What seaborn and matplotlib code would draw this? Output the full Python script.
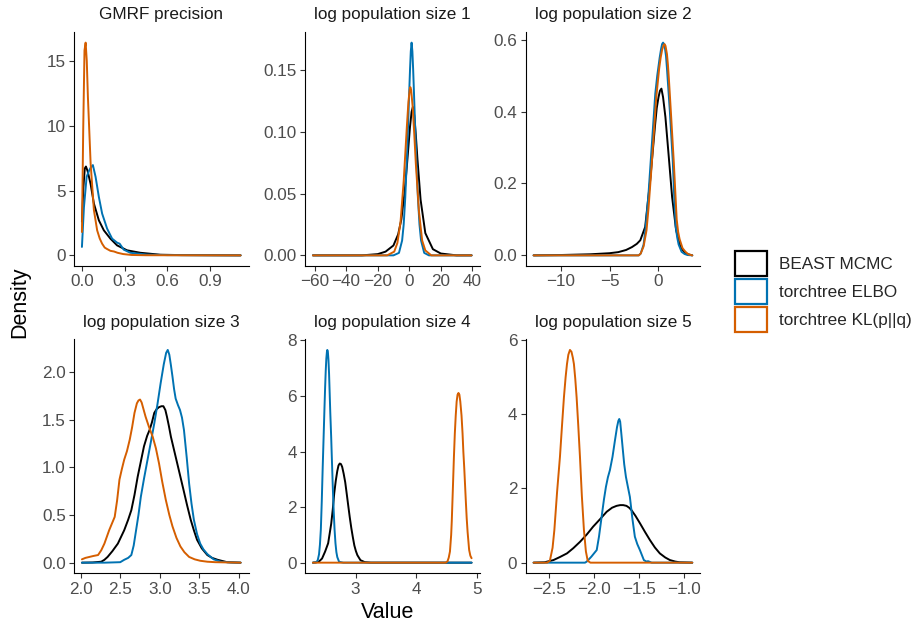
import numpy as np
import pandas as pd
import matplotlib
matplotlib.use("Agg")
import matplotlib.pyplot as plt
from matplotlib.patches import Patch
from matplotlib.ticker import FixedLocator, FixedFormatter
import seaborn as sns

# ---------------- data ----------------
methods = ["BEAST MCMC", "torchtree ELBO", "torchtree KL(p||q)"]
colors = ["#000000", "#0072B2", "#D55E00"]
panel_titles = ["GMRF precision", "log population size 1", "log population size 2",
                "log population size 3", "log population size 4", "log population size 5"]

# GMRF precision
gmrf_beast_x = [0.0, 0.01, 0.02, 0.028, 0.04, 0.061, 0.084, 0.119, 0.154, 0.2, 0.247, 0.317, 0.41, 0.55, 0.7, 1.115]
gmrf_beast_y = [2.6, 5.2, 6.7, 6.85, 6.5, 5.5, 4.0, 2.7, 1.93, 1.29, 0.77, 0.39, 0.2, 0.05, 0.02, 0.0]
gmrf_elbo_x = [0.0, 0.014, 0.033, 0.049, 0.061, 0.077, 0.096, 0.119, 0.142, 0.177, 0.212, 0.247, 0.265, 0.294, 0.34, 0.457, 0.6, 1.115]
gmrf_elbo_y = [0.65, 3.7, 6.05, 6.5, 6.75, 6.96, 6.05, 4.5, 3.22, 2.06, 1.29, 0.98, 0.9, 0.44, 0.2, 0.06, 0.02, 0.0]
gmrf_kl_x = [0.0, 0.009, 0.018, 0.026, 0.034, 0.042, 0.061, 0.084, 0.107, 0.125, 0.142, 0.16, 0.175, 0.2, 0.225, 0.25, 0.29, 0.35, 0.45, 1.115]
gmrf_kl_y = [1.8, 9.7, 15.8, 16.4, 15.0, 12.2, 7.1, 3.5, 1.93, 1.3, 0.9, 0.6, 0.5, 0.35, 0.3, 0.2, 0.1, 0.03, 0.01, 0.0]

# log population size 1
lp1_beast_x = [-61, -30, -20, -15, -10, -7, -5, -3, -1.5, -0.5, 0.5, 1.5, 2.3, 3.2, 4.2, 5.2, 7.2, 10.2, 15, 20, 30, 39.5]
lp1_beast_y = [0, 0, 0.001, 0.003, 0.008, 0.017, 0.029, 0.05, 0.072, 0.088, 0.104, 0.116, 0.120, 0.113, 0.097, 0.078, 0.045, 0.018, 0.005, 0.0015, 0, 0]
lp1_elbo_x = [-61, -10, -6.5, -4.5, -3.5, -2.5, -1.5, -0.5, 0.0, 0.5, 1.0, 1.5, 2.0, 2.5, 3.0, 3.5, 4.5, 5.5, 6.5, 7.5, 9.5, 12.5, 39.5]
lp1_elbo_y = [0, 0, 0.002, 0.012, 0.025, 0.047, 0.078, 0.113, 0.132, 0.150, 0.165, 0.172, 0.165, 0.150, 0.132, 0.113, 0.078, 0.047, 0.025, 0.012, 0.002, 0, 0]
lp1_kl_x = [-61, -14, -9.5, -7.5, -5.5, -3.5, -2.5, -1.5, -0.5, 0.3, 0.7, 1.2, 2.2, 3.2, 4.2, 6.2, 8.2, 10.2, 14, 39.5]
lp1_kl_y = [0, 0, 0.003, 0.01, 0.027, 0.06, 0.082, 0.104, 0.124, 0.134, 0.136, 0.134, 0.12, 0.098, 0.074, 0.035, 0.012, 0.004, 0, 0]

# log population size 2
lp2_beast_x = [-12.8, -10, -7, -5, -4.1, -3.3, -2.7, -2.2, -1.84, -1.34, -0.82, -0.31, -0.15, 0.03, 0.18, 0.33, 0.5, 0.74, 1.09, 1.43, 1.84, 2.29, 2.8, 3.5]
lp2_beast_y = [0, 0.001, 0.003, 0.006, 0.009, 0.015, 0.023, 0.032, 0.042, 0.079, 0.21, 0.366, 0.41, 0.44, 0.458, 0.464, 0.44, 0.385, 0.273, 0.162, 0.07, 0.023, 0.005, 0]
lp2_elbo_x = [-12.8, -2.0, -1.8, -1.5, -1.3, -1.0, -0.8, -0.5, -0.3, -0.1, 0.0, 0.15, 0.3, 0.4, 0.5, 0.6, 0.7, 0.8, 0.9, 1.0, 1.2, 1.35, 1.5, 1.65, 1.8, 1.95, 2.1, 2.4, 2.7, 3.0, 3.5]
lp2_elbo_y = [0, 0, 0.005, 0.03, 0.075, 0.17, 0.25, 0.37, 0.45, 0.5, 0.52, 0.55, 0.575, 0.588, 0.592, 0.588, 0.575, 0.555, 0.52, 0.48, 0.4, 0.33, 0.26, 0.16, 0.08, 0.05, 0.03, 0.01, 0.004, 0.001, 0]
lp2_kl_x = [-12.8, -2.0, -1.8, -1.5, -1.2, -1.0, -0.7, -0.4, -0.2, 0.1, 0.25, 0.4, 0.55, 0.65, 0.75, 0.9, 1.0, 1.1, 1.3, 1.45, 1.6, 1.75, 1.9, 2.05, 2.2, 2.5, 2.8, 3.1, 3.5]
lp2_kl_y = [0, 0, 0.005, 0.025, 0.07, 0.13, 0.24, 0.36, 0.44, 0.52, 0.55, 0.572, 0.585, 0.588, 0.583, 0.56, 0.53, 0.49, 0.4, 0.33, 0.26, 0.18, 0.1, 0.065, 0.045, 0.02, 0.01, 0.003, 0]

# log population size 3
lp3_beast_x = [2.016, 2.15, 2.26, 2.3, 2.34, 2.4, 2.47, 2.55, 2.6, 2.64, 2.68, 2.72, 2.76, 2.8, 2.84, 2.87, 2.9, 2.93, 2.96, 2.99, 3.02, 3.045, 3.07, 3.09, 3.115, 3.14, 3.18, 3.22, 3.26, 3.30, 3.345, 3.39, 3.43, 3.47, 3.53, 3.6, 3.66, 3.73, 3.85, 4.02]
lp3_beast_y = [0, 0.002, 0.01, 0.03, 0.06, 0.12, 0.2, 0.34, 0.45, 0.55, 0.71, 0.9, 1.06, 1.22, 1.33, 1.39, 1.47, 1.57, 1.61, 1.63, 1.64, 1.64, 1.6, 1.53, 1.43, 1.32, 1.18, 1.04, 0.9, 0.76, 0.6, 0.45, 0.34, 0.24, 0.15, 0.08, 0.05, 0.03, 0.005, 0]
lp3_elbo_x = [2.016, 2.3, 2.5, 2.55, 2.6, 2.64, 2.67, 2.7, 2.73, 2.76, 2.8, 2.845, 2.89, 2.93, 2.97, 3.01, 3.05, 3.08, 3.1, 3.12, 3.14, 3.16, 3.18, 3.2, 3.23, 3.255, 3.28, 3.305, 3.34, 3.37, 3.4, 3.43, 3.47, 3.51, 3.55, 3.6, 3.68, 3.77, 3.9, 4.02]
lp3_elbo_y = [0, 0, 0.005, 0.03, 0.05, 0.08, 0.18, 0.34, 0.5, 0.69, 0.88, 1.08, 1.28, 1.46, 1.66, 1.88, 2.08, 2.2, 2.23, 2.18, 2.07, 1.95, 1.82, 1.72, 1.65, 1.6, 1.52, 1.39, 1.1, 0.83, 0.62, 0.45, 0.3, 0.2, 0.14, 0.09, 0.035, 0.01, 0.002, 0]
lp3_kl_x = [2.016, 2.06, 2.11, 2.16, 2.22, 2.26, 2.3, 2.36, 2.43, 2.46, 2.49, 2.52, 2.55, 2.585, 2.62, 2.65, 2.68, 2.71, 2.73, 2.75, 2.77, 2.79, 2.82, 2.86, 2.91, 2.95, 2.99, 3.03, 3.075, 3.12, 3.16, 3.21, 3.26, 3.31, 3.37, 3.44, 3.51, 3.6, 3.7, 4.02]
lp3_kl_y = [0.035, 0.05, 0.06, 0.07, 0.08, 0.13, 0.2, 0.34, 0.48, 0.65, 0.87, 0.98, 1.08, 1.17, 1.29, 1.42, 1.57, 1.67, 1.7, 1.71, 1.68, 1.62, 1.53, 1.43, 1.32, 1.2, 1.04, 0.85, 0.66, 0.5, 0.38, 0.26, 0.17, 0.11, 0.06, 0.035, 0.02, 0.01, 0.005, 0]

# log population size 4
lp4_beast_x = [2.30, 2.35, 2.40, 2.45, 2.50, 2.55, 2.60, 2.625, 2.65, 2.675, 2.70, 2.72, 2.74, 2.76, 2.78, 2.805, 2.83, 2.855, 2.88, 2.905, 2.93, 2.955, 2.98, 3.005, 3.03, 3.08, 3.15, 3.25, 4.905]
lp4_beast_y = [0, 0.01, 0.04, 0.15, 0.4, 0.7, 1.4, 1.9, 2.5, 2.95, 3.3, 3.5, 3.57, 3.55, 3.45, 3.2, 2.9, 2.48, 2.05, 1.63, 1.25, 0.92, 0.62, 0.42, 0.27, 0.09, 0.02, 0, 0]
lp4_elbo_x = [2.30, 2.36, 2.38, 2.40, 2.415, 2.43, 2.445, 2.46, 2.475, 2.49, 2.50, 2.51, 2.52, 2.53, 2.536, 2.545, 2.555, 2.565, 2.575, 2.585, 2.6, 2.61, 2.625, 2.64, 2.655, 2.67, 2.685, 2.70, 2.73, 2.8, 4.905]
lp4_elbo_y = [0, 0.02, 0.1, 0.3, 0.65, 1.2, 2.2, 3.4, 4.5, 5.6, 6.3, 6.9, 7.35, 7.6, 7.66, 7.6, 7.3, 6.8, 6.1, 5.4, 4.5, 3.8, 2.8, 1.9, 1.2, 0.7, 0.38, 0.2, 0.03, 0, 0]
lp4_kl_x = [2.30, 4.48, 4.51, 4.53, 4.55, 4.57, 4.58, 4.60, 4.615, 4.63, 4.645, 4.66, 4.675, 4.69, 4.705, 4.72, 4.74, 4.757, 4.77, 4.785, 4.81, 4.825, 4.84, 4.865, 4.885, 4.905]
lp4_kl_y = [0, 0, 0.05, 0.18, 0.4, 1.0, 1.5, 2.8, 3.8, 4.65, 5.3, 5.8, 6.05, 6.11, 6.05, 5.8, 5.3, 4.65, 4.0, 3.4, 2.25, 1.6, 1.1, 0.46, 0.25, 0.16]

# log population size 5
lp5_beast_x = [-2.67, -2.55, -2.45, -2.38, -2.30, -2.23, -2.156, -2.08, -2.01, -1.93, -1.86, -1.8, -1.75, -1.71, -1.676, -1.64, -1.61, -1.583, -1.54, -1.49, -1.435, -1.38, -1.325, -1.27, -1.21, -1.158, -1.1, -1.05, -0.91]
lp5_beast_y = [0, 0.01, 0.07, 0.15, 0.25, 0.39, 0.56, 0.76, 0.97, 1.18, 1.37, 1.48, 1.53, 1.55, 1.55, 1.53, 1.48, 1.41, 1.26, 1.06, 0.83, 0.61, 0.41, 0.25, 0.14, 0.07, 0.03, 0.01, 0]
lp5_elbo_x = [-2.67, -2.1, -2.08, -2.03, -1.97, -1.945, -1.916, -1.89, -1.868, -1.846, -1.824, -1.795, -1.768, -1.745, -1.73, -1.72, -1.71, -1.698, -1.683, -1.665, -1.646, -1.625, -1.602, -1.575, -1.547, -1.52, -1.491, -1.447, -1.42, -1.40, -1.36, -0.91]
lp5_elbo_y = [0, 0, 0.03, 0.16, 0.34, 0.7, 1.23, 1.7, 2.04, 2.3, 2.49, 2.85, 3.29, 3.65, 3.82, 3.87, 3.8, 3.5, 3.11, 2.65, 2.31, 2.05, 1.77, 1.2, 0.7, 0.5, 0.34, 0.07, 0.03, 0.04, 0, 0]
lp5_kl_x = [-2.67, -2.52, -2.49, -2.46, -2.44, -2.41, -2.378, -2.355, -2.334, -2.315, -2.30, -2.285, -2.267, -2.25, -2.235, -2.223, -2.208, -2.193, -2.175, -2.156, -2.135, -2.112, -2.09, -2.07, -2.04, -0.91]
lp5_kl_y = [0, 0, 0.05, 0.4, 0.88, 1.9, 2.85, 3.7, 4.45, 5.0, 5.35, 5.6, 5.73, 5.68, 5.52, 5.35, 4.95, 4.45, 3.7, 2.85, 1.8, 0.88, 0.3, 0.05, 0, 0]

# tick values / labels per panel
x_ticks = [[0.0, 0.3, 0.6, 0.9], [-60, -40, -20, 0, 20, 40], [-10, -5, 0],
           [2.0, 2.5, 3.0, 3.5, 4.0], [3, 4, 5], [-2.5, -2.0, -1.5, -1.0]]
x_labels = [["0.0", "0.3", "0.6", "0.9"], ["\u221260", "\u221240", "\u221220", "0", "20", "40"],
            ["\u221210", "\u22125", "0"], ["2.0", "2.5", "3.0", "3.5", "4.0"], ["3", "4", "5"],
            ["\u22122.5", "\u22122.0", "\u22121.5", "\u22121.0"]]
y_ticks = [[0, 5, 10, 15], [0.0, 0.05, 0.10, 0.15], [0.0, 0.2, 0.4, 0.6],
           [0.0, 0.5, 1.0, 1.5, 2.0], [0, 2, 4, 6, 8], [0, 2, 4, 6]]
y_labels = [["0", "5", "10", "15"], ["0.00", "0.05", "0.10", "0.15"], ["0.0", "0.2", "0.4", "0.6"],
            ["0.0", "0.5", "1.0", "1.5", "2.0"], ["0", "2", "4", "6", "8"], ["0", "2", "4", "6"]]

series = [
    [(gmrf_beast_x, gmrf_beast_y), (gmrf_elbo_x, gmrf_elbo_y), (gmrf_kl_x, gmrf_kl_y)],
    [(lp1_beast_x, lp1_beast_y), (lp1_elbo_x, lp1_elbo_y), (lp1_kl_x, lp1_kl_y)],
    [(lp2_beast_x, lp2_beast_y), (lp2_elbo_x, lp2_elbo_y), (lp2_kl_x, lp2_kl_y)],
    [(lp3_beast_x, lp3_beast_y), (lp3_elbo_x, lp3_elbo_y), (lp3_kl_x, lp3_kl_y)],
    [(lp4_beast_x, lp4_beast_y), (lp4_elbo_x, lp4_elbo_y), (lp4_kl_x, lp4_kl_y)],
    [(lp5_beast_x, lp5_beast_y), (lp5_elbo_x, lp5_elbo_y), (lp5_kl_x, lp5_kl_y)],
]

rows = []
for p, title in enumerate(panel_titles):
    for m, (xs, ys) in zip(methods, series[p]):
        for xv, yv in zip(xs, ys):
            rows.append({"panel": title, "method": m, "x": xv, "y": yv})
df = pd.DataFrame(rows)

# ---------------- styling ----------------
sns.set_style("white")
plt.rcParams["font.family"] = ["Liberation Sans", "DejaVu Sans"]
plt.rcParams["axes.xmargin"] = 0.05
plt.rcParams["axes.ymargin"] = 0.05
plt.rcParams["lines.solid_joinstyle"] = "round"
plt.rcParams["lines.solid_capstyle"] = "round"

W, H = 922, 629
fig = plt.figure(figsize=(W / 100, H / 100), dpi=100)
fig.patch.set_facecolor("white")

col_left = [74, 305, 525.7]
row_top = [32, 339.3]
pw, ph = 174.5, 234.0
small = 12.3
big = 15.5

palette = dict(zip(methods, colors))
for i, title in enumerate(panel_titles):
    r, c = divmod(i, 3)
    L, T = col_left[c], row_top[r]
    ax = fig.add_axes([L / W, 1 - (T + ph) / H, pw / W, ph / H])
    sub = df[df["panel"] == title]
    sns.lineplot(data=sub, x="x", y="y", hue="method", hue_order=methods,
                 palette=palette, estimator=None, sort=False, legend=False,
                 linewidth=1.4, ax=ax)
    ax.set_xlabel("")
    ax.set_ylabel("")
    for s in ["top", "right"]:
        ax.spines[s].set_visible(False)
    for s in ["left", "bottom"]:
        ax.spines[s].set_color("black")
        ax.spines[s].set_linewidth(0.8)
    ax.xaxis.set_major_locator(FixedLocator(x_ticks[i]))
    ax.xaxis.set_major_formatter(FixedFormatter(x_labels[i]))
    ax.yaxis.set_major_locator(FixedLocator(y_ticks[i]))
    ax.yaxis.set_major_formatter(FixedFormatter(y_labels[i]))
    ax.tick_params(axis="both", which="major", direction="out", length=3.5, width=0.8,
                   color="#333333", labelcolor="#4D4D4D", labelsize=small, pad=2.5,
                   bottom=True, left=True)
    ax.set_facecolor("white")
    ax.grid(False)
    fig.text((L + pw / 2) / W, 1 - (T - 17) / H, title, ha="center", va="center",
             fontsize=small, color="#1A1A1A")

fig.text(20 / W, 1 - 302 / H, "Density", rotation=90, ha="center", va="center",
         fontsize=big, color="black")
fig.text(387.5 / W, 1 - 613 / H, "Value", ha="center", va="center",
         fontsize=big, color="black")

handles = [Patch(facecolor="none", edgecolor=c, linewidth=1.6, label=m)
           for m, c in zip(methods, colors)]
fig.legend(handles=handles, loc="upper left", bbox_to_anchor=(735 / W, 1 - 251 / H),
           frameon=False, fontsize=small, handlelength=1.85, handleheight=1.85,
           handletextpad=0.75, labelspacing=0.2, borderpad=0, borderaxespad=0)

fig.savefig("out.png", dpi=100, facecolor="white")
